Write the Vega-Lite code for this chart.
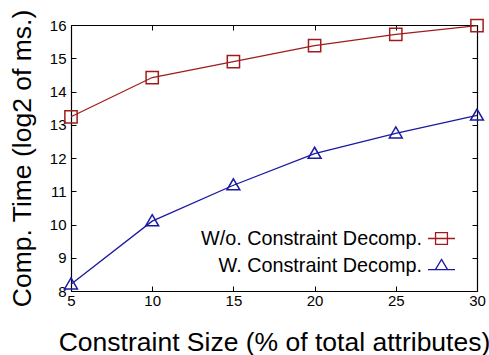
{
  "$schema": "https://vega.github.io/schema/vega-lite/v6.json",
  "width": 406,
  "height": 266,
  "autosize": {"type": "none"},
  "padding": {"left": 71, "top": 25, "right": 12, "bottom": 64},
  "background": "white",
  "config": {
    "view": {"stroke": null},
    "font": "Liberation Sans",
    "axis": {"labelFont": "Liberation Sans", "titleFont": "Liberation Sans", "labelColor": "black", "titleColor": "black", "domainColor": "black", "tickColor": "black", "grid": false, "titleFontWeight": "normal"},
    "legend": {"labelFont": "Liberation Sans"}
  },
  "data": {"values": [
    {"size": 5, "time": 13.24, "series": "W/o. Constraint Decomp."},
    {"size": 10, "time": 14.42, "series": "W/o. Constraint Decomp."},
    {"size": 15, "time": 14.9, "series": "W/o. Constraint Decomp."},
    {"size": 20, "time": 15.38, "series": "W/o. Constraint Decomp."},
    {"size": 25, "time": 15.72, "series": "W/o. Constraint Decomp."},
    {"size": 30, "time": 15.98, "series": "W/o. Constraint Decomp."},
    {"size": 5, "time": 8.2, "series": "W. Constraint Decomp."},
    {"size": 10, "time": 10.1, "series": "W. Constraint Decomp."},
    {"size": 15, "time": 11.18, "series": "W. Constraint Decomp."},
    {"size": 20, "time": 12.13, "series": "W. Constraint Decomp."},
    {"size": 25, "time": 12.74, "series": "W. Constraint Decomp."},
    {"size": 30, "time": 13.28, "series": "W. Constraint Decomp."}
  ]},
  "layer": [
    {
      "mark": {"type": "line", "strokeWidth": 1.3, "clip": false},
      "encoding": {
        "x": {"field": "size", "type": "quantitative",
          "scale": {"domain": [5, 30], "nice": false, "zero": false},
          "axis": {"orient": "bottom", "values": [5, 10, 15, 20, 25, 30], "tickSize": -5, "labelPadding": 7, "labelFontSize": 15, "labelFlush": false, "title": "Constraint Size (% of total attributes)", "titleFontSize": 26.5, "titlePadding": 21, "domainWidth": 1.2, "tickWidth": 1}},
        "y": {"field": "time", "type": "quantitative",
          "scale": {"domain": [8, 16], "nice": false, "zero": false},
          "axis": {"orient": "left", "values": [8, 9, 10, 11, 12, 13, 14, 15, 16], "tickSize": -5, "labelPadding": 10, "labelFontSize": 15, "labelFlush": false, "title": "Comp. Time (log2 of ms.)", "titleFontSize": 26.5, "titlePadding": 13, "domainWidth": 1.2, "tickWidth": 1}},
        "color": {"field": "series", "type": "nominal",
          "scale": {"domain": ["W/o. Constraint Decomp.", "W. Constraint Decomp."], "range": ["#a01c1c", "#1a1aa0"]},
          "legend": {
            "orient": "none", "legendX": 356, "legendY": 199, "title": null,
            "padding": 0, "rowPadding": 2,
            "labelAlign": "right", "labelOffset": -34, "labelFontSize": 19.8, "labelColor": "black", "labelLimit": 0,
            "symbolSize": 729, "symbolStrokeWidth": 1.3,
            "encode": {"symbols": {"update": {
              "shape": {"signal": "datum.value === 'W/o. Constraint Decomp.' ? 'M-1,0H1M-0.44,-0.44H0.44V0.44H-0.44Z' : 'M-1,0.3H1M0,-0.45L0.45,0.3H-0.45Z'"},
              "fill": {"value": "transparent"},
              "strokeWidth": {"value": 1.3}
            }}}
          }}
      }
    },
    {
      "mark": {"type": "point", "filled": false, "strokeWidth": 1.5, "size": 150, "opacity": 1, "clip": false},
      "encoding": {
        "x": {"field": "size", "type": "quantitative",
          "axis": {"orient": "top", "values": [5, 10, 15, 20, 25, 30], "tickSize": -5, "labels": false, "title": null, "domainWidth": 1.2, "tickWidth": 1}},
        "y": {"field": "time", "type": "quantitative",
          "axis": {"orient": "right", "values": [8, 9, 10, 11, 12, 13, 14, 15, 16], "tickSize": -5, "labels": false, "title": null, "domainWidth": 1.2, "tickWidth": 1}},
        "color": {"field": "series", "type": "nominal", "legend": null},
        "shape": {"condition": {"test": "datum.series === 'W. Constraint Decomp.'", "value": "M0,-1.05L1.05,0.75H-1.05Z"}, "value": "M-1,-1H1V1H-1Z"}
      }
    }
  ]
}
